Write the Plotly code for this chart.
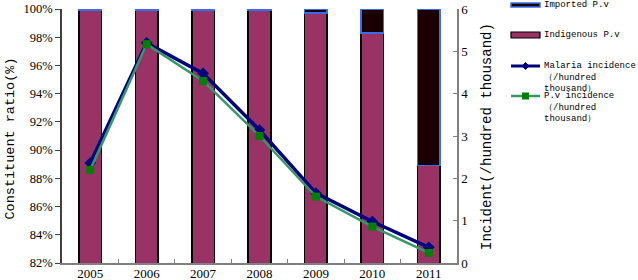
import plotly.graph_objects as go

years = ["2005", "2006", "2007", "2008", "2009", "2010", "2011"]
indigenous_pct = [99.9, 99.9, 99.9, 99.9, 99.7, 98.3, 88.9]
imported_pct = [0.1, 0.1, 0.1, 0.1, 0.3, 1.7, 11.1]
malaria_incidence = [2.36, 5.20, 4.48, 3.14, 1.65, 0.98, 0.37]
pv_incidence = [2.20, 5.17, 4.30, 3.00, 1.57, 0.86, 0.24]

left_tick_vals = [82, 84, 86, 88, 90, 92, 94, 96, 98, 100]
left_tick_labels = ["82%", "84%", "86%", "88%", "90%", "92%", "94%", "96%", "98%", "100%"]
right_tick_vals = [0, 1, 2, 3, 4, 5, 6]
right_tick_labels = ["0", "1", "2", "3", "4", "5", "6"]

# plot area in pixels
L, R, T, B = 62, 457, 9, 263
W, H = 638, 280


def px_x(p):
    return (p - L) / (R - L)


def px_y(p):
    return (B - p) / (B - T)


MAROON = "#993366"
IMPORT_FILL = "#1a0000"
IMPORT_EDGE = "#3a6cf0"
NAVY = "#000080"
GREEN_LINE = "#339966"
GREEN_MK = "#008000"
MONO = "Liberation Mono, DejaVu Sans Mono, monospace"
SERIF = "Liberation Serif, Times New Roman, serif"

fig = go.Figure()
fig.add_trace(go.Bar(
    x=years, y=indigenous_pct, name="Indigenous P.v", width=0.4,
    marker=dict(color=MAROON, line=dict(color="#000000", width=1.5)),
))
fig.add_trace(go.Bar(
    x=years, y=imported_pct, name="Imported P.v", width=0.4,
    marker=dict(color=IMPORT_FILL, line=dict(color=IMPORT_EDGE, width=1.5)),
))
fig.add_trace(go.Scatter(
    x=years, y=malaria_incidence, yaxis="y2", mode="lines+markers",
    name="Malaria incidence (/hundred thousand)",
    line=dict(color=NAVY, width=3.5),
    marker=dict(symbol="diamond", size=9, color=NAVY),
))
fig.add_trace(go.Scatter(
    x=years, y=pv_incidence, yaxis="y2", mode="lines+markers",
    name="P.v incidence (/hundred thousand)",
    line=dict(color=GREEN_LINE, width=2.5),
    marker=dict(symbol="square", size=8, color=GREEN_MK),
))

fig.update_layout(
    width=W, height=H,
    margin=dict(l=L, r=W - R, t=T, b=H - B),
    barmode="stack",
    showlegend=False,
    plot_bgcolor="white", paper_bgcolor="white",
    xaxis=dict(
        type="category", range=[-0.5, 6.5], automargin=False,
        showline=True, linecolor="#808080", linewidth=1.5,
        ticks="inside", ticklen=4, tickcolor="#808080", tickson="boundaries",
        ticklabelstandoff=-2,
        showgrid=False, tickfont=dict(family=SERIF, size=13, color="#000"),
    ),
    yaxis=dict(
        range=[82, 100], tickvals=left_tick_vals, ticktext=left_tick_labels,
        automargin=False,
        showline=True, linecolor="#404040", linewidth=1.5,
        ticks="outside", ticklen=5, tickcolor="#404040",
        showgrid=False, zeroline=False,
        tickfont=dict(family=SERIF, size=12.5, color="#000"),
    ),
    yaxis2=dict(
        range=[0, 6], tickvals=right_tick_vals, ticktext=right_tick_labels,
        overlaying="y", side="right", anchor="x",
        automargin=False, showline=True, linecolor="#808080", linewidth=1.5,
        ticks="inside", ticklen=4, tickcolor="#808080",
        showgrid=False, zeroline=False,
        tickfont=dict(family=SERIF, size=13, color="#000"),
    ),
)

annotations = [
    dict(text="Constituent ratio(%)", x=px_x(9.5), y=px_y(139), textangle=-90,
         font=dict(family=MONO, size=13.5, color="#000")),
    dict(text="Incident(/hundred thousand)", x=px_x(487), y=px_y(137), textangle=-90,
         font=dict(family=MONO, size=14, color="#000")),
    dict(text="Imported P.v", x=px_x(542), y=px_y(5), xanchor="left",
         font=dict(family=MONO, size=9, color="#000")),
    dict(text="Indigenous P.v", x=px_x(542), y=px_y(35), xanchor="left",
         font=dict(family=MONO, size=9, color="#000")),
    dict(text="Malaria incidence<br>\uff08/hundred<br>thousand\uff09", x=px_x(542), y=px_y(59),
         xanchor="left", yanchor="top", align="left",
         font=dict(family=MONO, size=9, color="#000")),
    dict(text="P.v incidence<br>\uff08/hundred<br>thousand\uff09", x=px_x(542), y=px_y(89),
         xanchor="left", yanchor="top", align="left",
         font=dict(family=MONO, size=9, color="#000")),
]
for a in annotations:
    a.setdefault("xanchor", "center")
    a.setdefault("yanchor", "middle")
    a.update(xref="paper", yref="paper", showarrow=False)
fig.update_layout(annotations=annotations)

# manual legend symbols
shapes = [
    dict(type="rect", x0=px_x(511), x1=px_x(540), y0=px_y(7), y1=px_y(3),
         fillcolor=IMPORT_FILL, line=dict(color=IMPORT_EDGE, width=1.5)),
    dict(type="rect", x0=px_x(511), x1=px_x(540), y0=px_y(38), y1=px_y(32),
         fillcolor=MAROON, line=dict(color="#000000", width=1.2)),
    dict(type="line", x0=px_x(511), x1=px_x(540), y0=px_y(66), y1=px_y(66),
         line=dict(color=NAVY, width=3)),
    dict(type="line", x0=px_x(511), x1=px_x(540), y0=px_y(96), y1=px_y(96),
         line=dict(color=GREEN_LINE, width=2.5)),
]
cx, cy = 525.5, 66
d = 3.5
shapes.append(dict(
    type="path",
    path=(f"M {px_x(cx - d)} {px_y(cy)} L {px_x(cx)} {px_y(cy - d)} "
          f"L {px_x(cx + d)} {px_y(cy)} L {px_x(cx)} {px_y(cy + d)} Z"),
    fillcolor=NAVY, line=dict(color=NAVY, width=1)))
s = 3.5
shapes.append(dict(type="rect", x0=px_x(525.5 - s), x1=px_x(525.5 + s),
                   y0=px_y(96 + s), y1=px_y(96 - s),
                   fillcolor=GREEN_MK, line=dict(color=GREEN_MK, width=0)))
for sh in shapes:
    sh.update(xref="paper", yref="paper")
fig.update_layout(shapes=shapes)

fig.write_html(
    "out.html",
    config={"displayModeBar": False},
    post_script="document.body.style.margin='0';document.body.style.overflow='hidden';",
)
